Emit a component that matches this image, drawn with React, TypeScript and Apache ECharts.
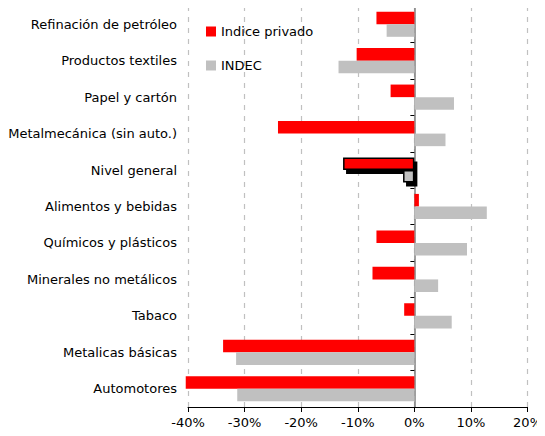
import React, { useEffect, useRef } from "react";
import * as echarts from "echarts";

const categories = [
  "Refinación de petróleo",
  "Productos textiles",
  "Papel y cartón",
  "Metalmecánica (sin auto.)",
  "Nivel general",
  "Alimentos y bebidas",
  "Químicos y plásticos",
  "Minerales no metálicos",
  "Tabaco",
  "Metalicas básicas",
  "Automotores",
];

const privado = [-6.7, -10.2, -4.2, -24.1, -12.6, 0.8, -6.7, -7.4, -1.8, -33.8, -40.4];
const indec = [-4.9, -13.4, 7.0, 5.5, -2.0, 12.8, 9.3, 4.2, 6.6, -31.5, -31.3];

const HIGHLIGHT = "Nivel general";
const FONT = "DejaVu Sans";

function withHighlight(values: number[]) {
  return values.map((v, i) =>
    categories[i] === HIGHLIGHT
      ? {
          value: v,
          itemStyle: {
            borderColor: "#000",
            borderWidth: 1.5,
            shadowColor: "#000",
            shadowOffsetX: 3,
            shadowOffsetY: 4,
            shadowBlur: 0,
          },
        }
      : v
  );
}

export default function App() {
  const ref = useRef<HTMLDivElement>(null);
  useEffect(() => {
    if (!ref.current) return;
    const chart = echarts.init(ref.current, undefined, { renderer: "svg" });
    chart.setOption({
      animation: false,
      backgroundColor: "#fff",
      textStyle: { fontFamily: FONT },
      grid: { left: 188, right: 16, top: 6, bottom: 29 },
      legend: {
        orient: "vertical",
        left: 201,
        top: 20,
        itemWidth: 10,
        itemHeight: 10,
        itemGap: 21,
        itemStyle: { borderWidth: 0 },
        icon: "rect",
        textStyle: { fontSize: 13, color: "#000", fontFamily: FONT },
        data: ["Indice privado", "INDEC"],
      },
      xAxis: {
        type: "value",
        min: -40,
        max: 20,
        interval: 10,
        axisLine: { show: true, onZero: false, lineStyle: { color: "#000", width: 1 } },
        axisTick: { show: true, length: 5, lineStyle: { color: "#000" } },
        axisLabel: {
          formatter: "{value}%",
          fontSize: 13,
          color: "#000",
          margin: 9,
          fontFamily: FONT,
        },
        splitLine: {
          show: true,
          lineStyle: { color: "#c0c0c0", type: [5, 6], width: 1.2 },
        },
      },
      yAxis: [
        {
          type: "category",
          data: categories,
          inverse: true,
          position: "left",
          axisLine: { show: false, onZero: false },
          axisTick: { show: false },
          axisLabel: { fontSize: 13, color: "#000", margin: 11, fontFamily: FONT },
          splitLine: { show: false },
        },
        {
          type: "category",
          data: categories,
          inverse: true,
          position: "left",
          axisLine: { show: true, onZero: true, lineStyle: { color: "#7f7f7f", width: 1.5 } },
          axisTick: { show: true, length: 4, lineStyle: { color: "#000" } },
          axisLabel: { show: false },
          splitLine: { show: false },
        },
      ],
      series: [
        {
          name: "Indice privado",
          type: "bar",
          yAxisIndex: 0,
          data: withHighlight(privado),
          itemStyle: { color: "#ff0000" },
          barGap: "0%",
          barCategoryGap: "31%",
          clip: false,
        },
        {
          name: "INDEC",
          type: "bar",
          yAxisIndex: 0,
          data: withHighlight(indec),
          itemStyle: { color: "#c0c0c0" },
          barGap: "0%",
          barCategoryGap: "31%",
          clip: false,
        },
      ],
    });
    return () => chart.dispose();
  }, []);
  return <div ref={ref} style={{ width: 545, height: 436, margin: -8 }} />;
}
